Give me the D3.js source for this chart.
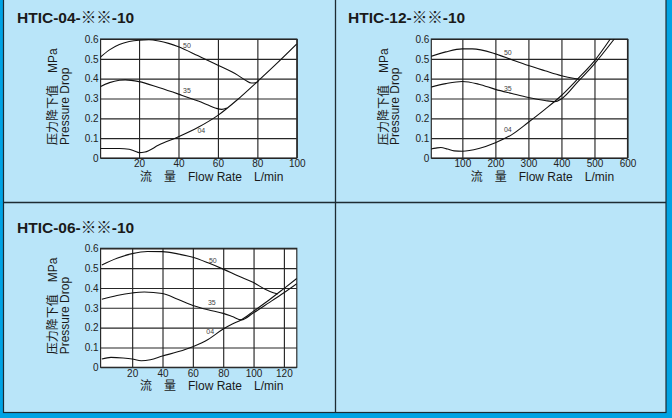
<!DOCTYPE html>
<html><head><meta charset="utf-8">
<script src="https://cdn.jsdelivr.net/npm/d3@7"></script>
<style>html,body{margin:0;padding:0;background:#00a3e4;} svg{display:block;}</style>
</head><body><svg id="c" width="672" height="418"></svg>
<script>
// ---------- data ----------
const titles = ["HTIC-04-※※-10", "HTIC-12-※※-10", "HTIC-06-※※-10"];
const seriesNames = ["50", "35", "04"];
const yTicks = [0, 0.1, 0.2, 0.3, 0.4, 0.5, 0.6];
const yTickLabels = ["0", "0.1", "0.2", "0.3", "0.4", "0.5", "0.6"];
const xTicks04 = [20, 40, 60, 80, 100];
const xTicks12 = [100, 200, 300, 400, 500, 600];
const xTicks06 = [20, 40, 60, 80, 100, 120];
const xTitle = "流　量　Flow Rate　L/min";
const yTitle1 = "压力降下值　MPa";
const yTitle2 = "Pressure Drop";

// HTIC-04 (flow L/min, pressure drop MPa)
const htic04_50 = [[0,0.505],[5,0.545],[10,0.572],[15,0.587],[20,0.594],[25,0.596],[30,0.59],[35,0.578],[40,0.561],[50,0.515],[60,0.468],[70,0.418],[74,0.392],[77,0.378],[79,0.379],[80.5,0.388]];
const htic04_35 = [[0,0.358],[5,0.38],[10,0.392],[13,0.394],[20,0.385],[30,0.355],[40,0.322],[50,0.287],[55,0.267],[59,0.251],[62,0.245],[64.5,0.252]];
const htic04_04 = [[0,0.048],[10,0.048],[15,0.044],[18,0.034],[20,0.027],[23,0.03],[30,0.065],[40,0.107],[50,0.155],[60,0.215],[70,0.295],[80,0.385],[90,0.478],[100,0.575]];
const labels04 = [[42.3,0.555],[42.3,0.329],[49.6,0.125]];

// HTIC-12
const htic12_50 = [[0,0.51],[50,0.535],[100,0.55],[130,0.55],[200,0.525],[250,0.495],[300,0.466],[350,0.44],[400,0.415],[440,0.401],[455,0.397]];
const htic12_35 = [[0,0.355],[50,0.375],[100,0.386],[150,0.372],[200,0.346],[250,0.325],[300,0.305],[350,0.29],[380,0.284],[400,0.298],[450,0.385],[500,0.475],[560,0.6]];
const htic12_04 = [[0,0.044],[20,0.05],[35,0.053],[55,0.045],[75,0.036],[100,0.034],[150,0.048],[200,0.077],[250,0.118],[300,0.18],[350,0.245],[400,0.315],[450,0.4],[500,0.49],[548,0.6]];
const labels12 = [[226,0.518],[226,0.339],[226,0.133]];

// HTIC-06
const htic06_50 = [[0,0.516],[10,0.55],[20,0.573],[30,0.584],[40,0.583],[50,0.572],[60,0.555],[70,0.527],[80,0.495],[90,0.46],[100,0.427],[108,0.392],[113,0.376],[116,0.37]];
const htic06_35 = [[0,0.343],[10,0.362],[20,0.375],[28,0.38],[40,0.372],[50,0.343],[60,0.312],[70,0.29],[80,0.272],[86,0.256],[92,0.239],[100,0.275],[110,0.325],[120,0.376],[128.5,0.422]];
const htic06_04 = [[0,0.042],[6,0.05],[14,0.047],[20,0.042],[26,0.033],[32,0.038],[40,0.057],[50,0.078],[60,0.104],[70,0.14],[80,0.193],[86,0.218],[92,0.24],[100,0.283],[110,0.338],[120,0.397],[128.5,0.448]];
const labels06 = [[70.6,0.527],[69.9,0.313],[68.9,0.166]];

// ---------- layout ----------
const FONT = "'Liberation Sans', Arial, 'Noto Sans CJK SC', sans-serif";
const L = 100.6, R = 296.8, T = 39, B = 158;
const panels = [
  {title: titles[0], ox: 0, oy: 0, xDomain: [0.5, 100], xTicks: xTicks04, series: [htic04_50, htic04_35, htic04_04], labels: labels04, tx: 17, ty: 23.3},
  {title: titles[1], ox: 330.7, oy: 0, xDomain: [6, 600], xTicks: xTicks12, series: [htic12_50, htic12_35, htic12_04], labels: labels12, tx: 348, ty: 22.5},
  {title: titles[2], ox: 0, oy: 209.3, xDomain: [-0.8, 128.5], xTicks: xTicks06, series: [htic06_50, htic06_35, htic06_04], labels: labels06, tx: 17, ty: 232.7}
];

const svg = d3.select("#c");
svg.append("rect").attr("x",0).attr("y",0).attr("width",672).attr("height",418).attr("fill","#00a3e4");
svg.append("rect").attr("x",3.5).attr("y",-2).attr("width",662.5).attr("height",414.5)
  .attr("fill","#b9e5f9").attr("stroke","#1d2b33").attr("stroke-width",1.2);
svg.append("line").attr("x1",335.5).attr("x2",335.5).attr("y1",-1).attr("y2",412.5).attr("stroke","#1d2b33").attr("stroke-width",1.3);
svg.append("line").attr("x1",3.5).attr("x2",666).attr("y1",202.5).attr("y2",202.5).attr("stroke","#1d2b33").attr("stroke-width",1.4);

panels.forEach((p, pi) => {
  const g = svg.append("g");
  const x = d3.scaleLinear().domain(p.xDomain).range([p.ox + L, p.ox + R]);
  const y = d3.scaleLinear().domain([0, 0.6]).range([p.oy + B, p.oy + T]);
  const pl = p.ox + L, pr = p.ox + R, pt = p.oy + T, pb = p.oy + B;

  g.append("text").attr("x", p.tx).attr("y", p.ty).text(p.title)
    .attr("font-family", FONT).attr("font-weight", "bold").attr("font-size", 15.5).attr("fill", "#1a1a1a");

  g.append("rect").attr("x", pl).attr("y", pt).attr("width", pr - pl).attr("height", pb - pt).attr("fill", "#ffffff");

  const ya = g.append("g").attr("transform", `translate(${pl},0)`)
    .call(d3.axisLeft(y).tickValues(yTicks).tickFormat((d, i) => yTickLabels[i]).tickSize(-(pr - pl)).tickPadding(2));
  const xa = g.append("g").attr("transform", `translate(0,${pb})`)
    .call(d3.axisBottom(x).tickValues(p.xTicks).tickSize(-(pb - pt)).tickPadding(2.2));
  [ya, xa].forEach(a => {
    a.select(".domain").remove();
    a.selectAll("line").attr("stroke", "#262626").attr("stroke-width", 1.15);
    a.selectAll("text").attr("font-family", FONT).attr("font-size", 10).attr("fill", "#222");
  });

  g.append("rect").attr("x", pl).attr("y", pt).attr("width", pr - pl).attr("height", pb - pt)
    .attr("fill", "none").attr("stroke", "#262626").attr("stroke-width", 1.15);

  const cid = "clip" + pi;
  svg.append("clipPath").attr("id", cid).append("rect").attr("x", pl).attr("y", pt).attr("width", pr - pl).attr("height", pb - pt);
  const line = d3.line().x(d => x(d[0])).y(d => y(d[1])).curve(d3.curveMonotoneX);
  const cg = g.append("g").attr("clip-path", `url(#${cid})`);
  p.series.forEach(s => {
    cg.append("path").attr("d", line(s)).attr("fill", "none").attr("stroke", "#111").attr("stroke-width", 1.1);
  });
  p.labels.forEach((lp, i) => {
    g.append("text").attr("x", x(lp[0])).attr("y", y(lp[1])).text(seriesNames[i])
      .attr("font-family", FONT).attr("font-size", 7).attr("fill", "#444");
  });

  // axis titles
  g.append("text").attr("x", p.ox + 140).attr("y", p.oy + 181).text(xTitle)
    .attr("font-family", FONT).attr("font-size", 12).attr("fill", "#1a1a1a");
  g.append("text").attr("transform", `translate(${p.ox + 57},${p.oy + 145}) rotate(-90)`).text(yTitle1)
    .attr("font-family", FONT).attr("font-size", 12).attr("fill", "#1a1a1a");
  g.append("text").attr("transform", `translate(${p.ox + 68.5},${p.oy + 145}) rotate(-90)`).text(yTitle2)
    .attr("font-family", FONT).attr("font-size", 12).attr("fill", "#1a1a1a");
});
</script></body></html>
